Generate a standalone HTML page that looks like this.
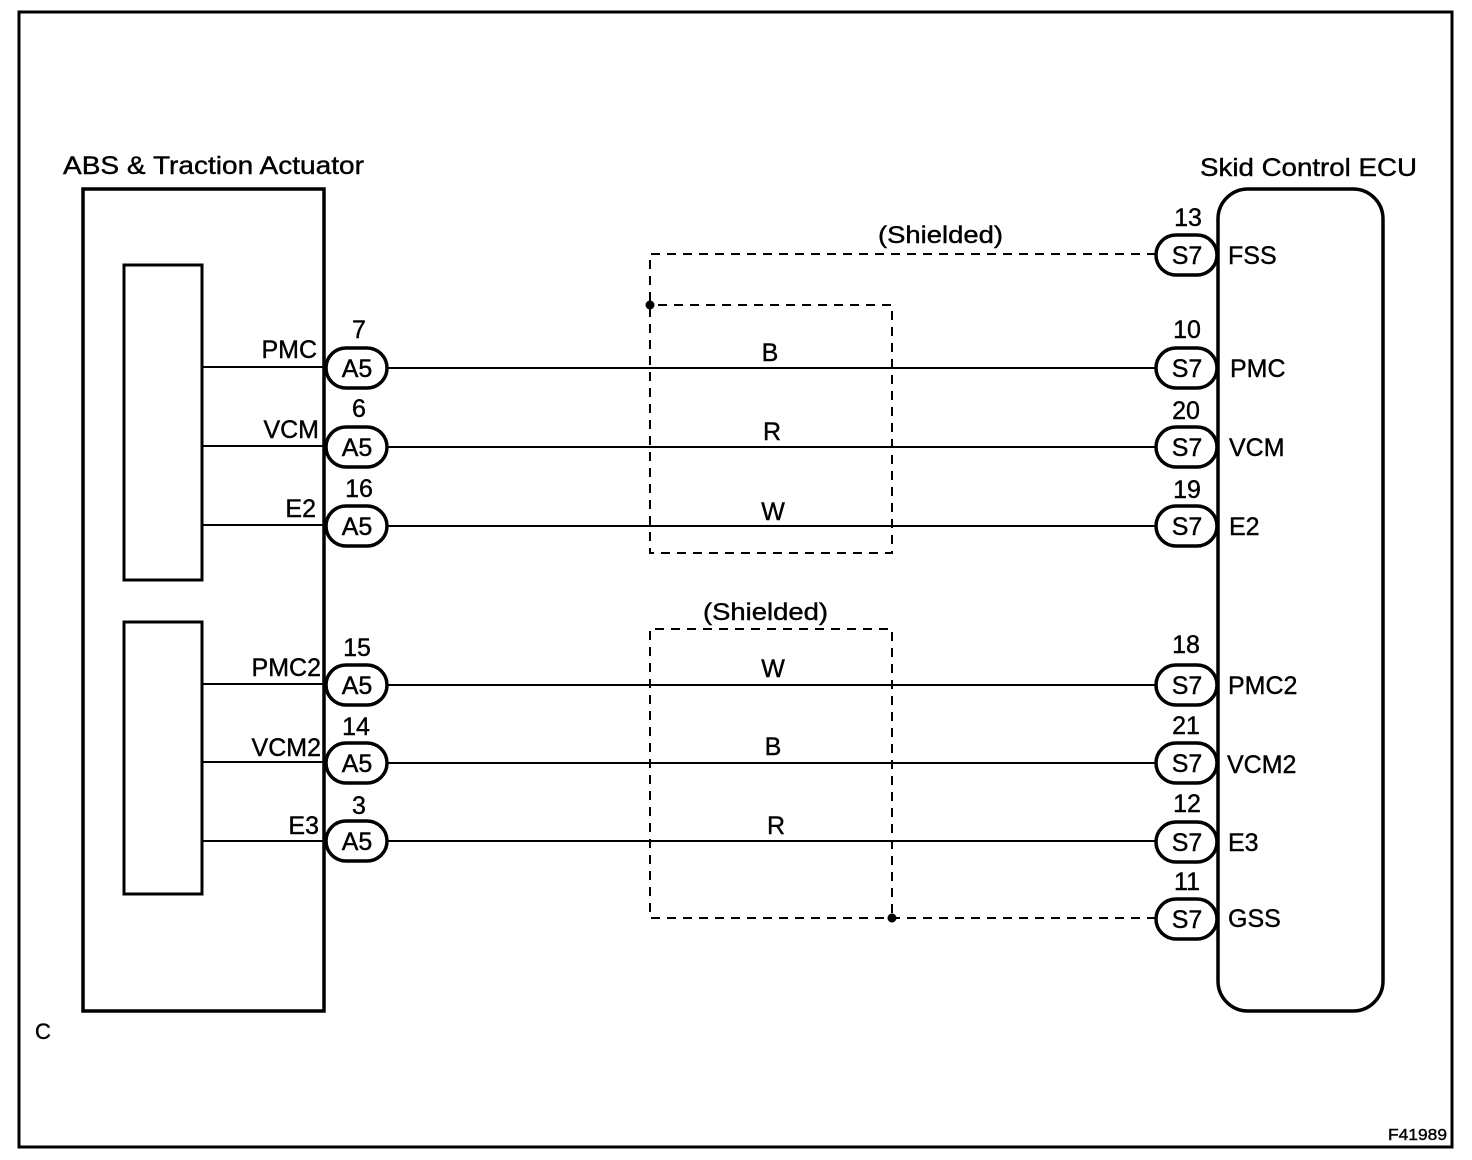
<!DOCTYPE html>
<html><head><style>
html,body{margin:0;padding:0;background:#fff;}
svg{display:block;}
text{font-family:"Liberation Sans",sans-serif;fill:#000;stroke:#000;stroke-width:0.4;}
</style></head><body>
<svg width="1472" height="1160" viewBox="0 0 1472 1160" xmlns="http://www.w3.org/2000/svg">
<rect x="19" y="12" width="1433" height="1135" fill="none" stroke="#000" stroke-width="3"/>
<text x="63" y="174" font-size="25" textLength="301" lengthAdjust="spacingAndGlyphs">ABS &amp; Traction Actuator</text>
<text x="1200" y="176" font-size="25" textLength="217" lengthAdjust="spacingAndGlyphs">Skid Control ECU</text>
<rect x="83" y="189" width="241" height="822" fill="none" stroke="#000" stroke-width="3.5"/>
<rect x="124" y="265" width="78" height="315" fill="none" stroke="#000" stroke-width="3"/>
<rect x="124" y="622" width="78" height="272" fill="none" stroke="#000" stroke-width="3"/>
<rect x="1218" y="189" width="165" height="822" rx="30" fill="none" stroke="#000" stroke-width="3.5"/>
<text x="35" y="1039" font-size="22">C</text>
<text x="1388" y="1140" font-size="16" textLength="59" lengthAdjust="spacingAndGlyphs">F41989</text>

<g stroke="#000" stroke-width="2">
<line x1="202" y1="367" x2="324" y2="367"/><line x1="202" y1="446" x2="324" y2="446"/><line x1="202" y1="525" x2="324" y2="525"/>
<line x1="202" y1="684" x2="324" y2="684"/><line x1="202" y1="762" x2="324" y2="762"/><line x1="202" y1="841" x2="324" y2="841"/>
<line x1="388" y1="368" x2="1156" y2="368"/><line x1="388" y1="447" x2="1156" y2="447"/><line x1="388" y1="526" x2="1156" y2="526"/>
<line x1="388" y1="685" x2="1156" y2="685"/><line x1="388" y1="763" x2="1156" y2="763"/><line x1="388" y1="841" x2="1156" y2="841"/>
</g>
<g stroke="#000" stroke-width="2" fill="none" stroke-dasharray="9,7">
<polyline points="1156,254 650,254 650,553 892,553 892,305 650,305"/>
<polyline points="1156,918 650,918 650,629 892,629 892,918"/>
</g>
<circle cx="650" cy="305" r="4.5" fill="#000"/>
<circle cx="892" cy="918" r="4.5" fill="#000"/>
<text x="878" y="243" font-size="24" textLength="125" lengthAdjust="spacingAndGlyphs">(Shielded)</text>
<text x="703" y="620" font-size="24" textLength="125" lengthAdjust="spacingAndGlyphs">(Shielded)</text>
<g font-size="25" text-anchor="middle">
<text x="770" y="361">B</text><text x="772" y="440">R</text><text x="773" y="520">W</text>
<text x="773" y="677">W</text><text x="773" y="755">B</text><text x="776" y="834">R</text>
</g>

<g fill="#fff" stroke="#000" stroke-width="3.5">
<rect x="326" y="348" width="61" height="40" rx="20"/><rect x="326" y="427" width="61" height="40" rx="20"/><rect x="326" y="506" width="61" height="40" rx="20"/>
<rect x="326" y="665" width="61" height="40" rx="20"/><rect x="326" y="743" width="61" height="40" rx="20"/><rect x="326" y="821" width="61" height="40" rx="20"/>
<rect x="1156" y="235" width="61" height="40" rx="20"/><rect x="1156" y="348" width="61" height="40" rx="20"/><rect x="1156" y="427" width="61" height="40" rx="20"/>
<rect x="1156" y="506" width="61" height="40" rx="20"/><rect x="1156" y="665" width="61" height="40" rx="20"/><rect x="1156" y="743" width="61" height="40" rx="20"/>
<rect x="1156" y="822" width="61" height="40" rx="20"/><rect x="1156" y="899" width="61" height="40" rx="20"/>
</g>
<g font-size="25" text-anchor="middle">
<text x="357" y="377">A5</text><text x="357" y="456">A5</text><text x="357" y="535">A5</text>
<text x="357" y="694">A5</text><text x="357" y="772">A5</text><text x="357" y="850">A5</text>
<text x="359" y="338">7</text><text x="359" y="417">6</text><text x="359" y="497">16</text>
<text x="357" y="656">15</text><text x="356" y="735">14</text><text x="359" y="814">3</text>
<text x="1187" y="264">S7</text><text x="1187" y="377">S7</text><text x="1187" y="456">S7</text>
<text x="1187" y="535">S7</text><text x="1187" y="694">S7</text><text x="1187" y="772">S7</text>
<text x="1187" y="851">S7</text><text x="1187" y="928">S7</text>
<text x="1188" y="226">13</text><text x="1187" y="338">10</text><text x="1186" y="419">20</text>
<text x="1187" y="498">19</text><text x="1186" y="653">18</text><text x="1186" y="734">21</text>
<text x="1187" y="812">12</text><text x="1187" y="890">11</text>
</g>
<g font-size="25" text-anchor="end">
<text x="317" y="358">PMC</text><text x="319" y="438">VCM</text><text x="316" y="517">E2</text>
<text x="321" y="676">PMC2</text><text x="321" y="756">VCM2</text><text x="319" y="834">E3</text>
</g>
<g font-size="25">
<text x="1228" y="264">FSS</text><text x="1230" y="377">PMC</text><text x="1229" y="456">VCM</text>
<text x="1229" y="535">E2</text><text x="1228" y="694">PMC2</text><text x="1227" y="773">VCM2</text>
<text x="1228" y="851">E3</text><text x="1228" y="927">GSS</text>
</g>
</svg>
</body></html>
